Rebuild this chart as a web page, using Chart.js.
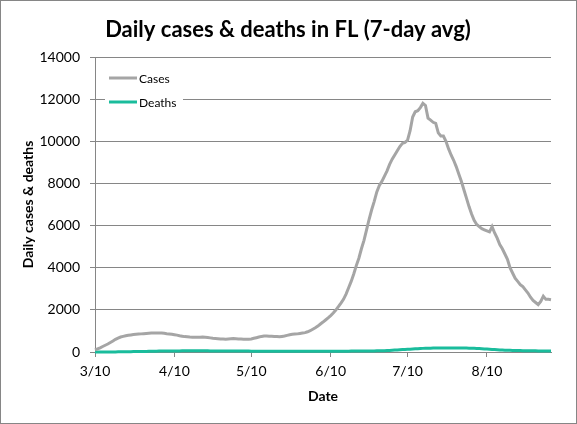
<!DOCTYPE html>
<html>
<head>
<meta charset="utf-8">
<script src="https://cdn.jsdelivr.net/npm/chart.js@4"></script>
<style>
html, body { margin: 0; padding: 0; background: #fff; }
canvas { display: block; }
</style>
</head>
<body>
<canvas id="myChart" width="577" height="424"></canvas>
<script>
const TITLE = 'Daily cases & deaths in FL (7-day avg)';
const GRID = '#868686';
const FONT = 'Lato, "Open Sans", sans-serif';

// ----------- Data ----------- //
// one category per day, 3/10 .. 9/4
const dates = [];
for (let d = new Date(2020, 2, 10); d <= new Date(2020, 8, 4); d.setDate(d.getDate() + 1)) {
    dates.push((d.getMonth() + 1) + '/' + d.getDate());
}
const tickDates = ['3/10', '4/10', '5/10', '6/10', '7/10', '8/10'];
const yTicks = [0, 2000, 4000, 6000, 8000, 10000, 12000, 14000];

const cases = [
    100, 150, 200, 260, 320, 380, 450, 520, 600, 660,
    710, 740, 770, 790, 810, 830, 840, 850, 860, 870,
    880, 890, 900, 900, 900, 905, 900, 890, 870, 855,
    840, 820, 800, 770, 750, 730, 720, 710, 705, 700,
    700, 705, 710, 700, 690, 670, 650, 640, 630, 620,
    615, 610, 620, 630, 640, 630, 620, 615, 610, 600,
    610, 620, 650, 680, 710, 740, 760, 760, 750, 750,
    740, 730, 720, 740, 760, 790, 820, 840, 850, 860,
    880, 900, 920, 960, 1010, 1080, 1150, 1230, 1330, 1420,
    1520, 1620, 1730, 1850, 1990, 2150, 2320, 2500, 2750, 3050,
    3350, 3700, 4100, 4450, 4900, 5300, 5800, 6300, 6750, 7150,
    7600, 7900, 8100, 8350, 8600, 8900, 9150, 9350, 9550, 9750,
    9900, 9950, 10050, 10500, 11150, 11400, 11450, 11600, 11800, 11700,
    11100, 11000, 10900, 10850, 10400, 10250, 10250, 10000, 9650, 9350,
    9100, 8800, 8450, 8100, 7700, 7300, 6900, 6550, 6250, 6050,
    5950, 5850, 5800, 5750, 5700, 5950, 5650, 5400, 5100, 4900,
    4650, 4400, 4000, 3750, 3500, 3350, 3200, 3100, 2950, 2800,
    2600, 2450, 2350, 2250, 2400, 2650, 2500, 2500, 2480
];

const deaths = [
    0, 0, 0, 1, 1, 2, 3, 4, 5, 6,
    8, 10, 12, 14, 16, 18, 20, 22, 24, 26,
    28, 30, 32, 35, 40, 42, 44, 45, 46, 47,
    48, 50, 52, 53, 54, 55, 55, 56, 56, 56,
    55, 55, 55, 54, 54, 53, 52, 52, 51, 50,
    50, 49, 48, 47, 46, 45, 44, 44, 43, 42,
    42, 41, 41, 40, 40, 40, 39, 39, 38, 38,
    38, 37, 37, 37, 36, 36, 36, 36, 35, 35,
    35, 35, 35, 35, 36, 36, 37, 37, 38, 38,
    38, 38, 39, 39, 39, 40, 40, 40, 41, 41,
    42, 42, 43, 44, 45, 46, 47, 48, 50, 52,
    54, 56, 58, 62, 66, 72, 80, 90, 100, 110,
    118, 124, 130, 136, 142, 150, 158, 166, 172, 176,
    180, 182, 184, 186, 186, 188, 188, 188, 188, 188,
    188, 186, 186, 185, 184, 184, 182, 180, 176, 170,
    164, 156, 148, 140, 132, 124, 116, 108, 100, 94,
    88, 82, 78, 74, 70, 68, 66, 64, 62, 60,
    58, 56, 54, 52, 50, 50, 48, 48, 48
];

// ----------- Plugin: frame, title, legend ----------- //
const decor = {
    id: 'decor',
    beforeDraw(chart) {
        const c = chart.ctx;
        c.save();
        c.fillStyle = '#fff';
        c.fillRect(0, 0, chart.width, chart.height);
        c.restore();
    },
    afterDraw(chart) {
        const c = chart.ctx;
        c.save();
        c.strokeStyle = GRID;
        c.lineWidth = 1;
        c.strokeRect(0.5, 0.5, chart.width - 1, chart.height - 1);

        c.fillStyle = '#000';
        c.font = 'bold 22px ' + FONT;
        c.textAlign = 'center';
        c.textBaseline = 'middle';
        c.fillText(TITLE, 288, 30);

        // legend box sits on top of the 12000 gridline
        c.fillStyle = '#fff';
        c.fillRect(105, 66, 78, 46);
        c.font = '12px ' + FONT;
        c.textAlign = 'left';
        chart.data.datasets.forEach((ds, i) => {
            const y = 78 + i * 24;
            c.strokeStyle = ds.borderColor;
            c.lineWidth = 3;
            c.beginPath();
            c.moveTo(109, y);
            c.lineTo(137, y);
            c.stroke();
            c.fillStyle = '#000';
            c.fillText(ds.label, 139, y + 1);
        });
        c.restore();
    }
};

// ----------- Chart ----------- //
const ctx = document.getElementById('myChart');
const chart = new Chart(ctx, {
    type: 'line',
    data: {
        labels: dates,
        datasets: [{
            label: 'Cases',
            data: cases,
            borderColor: '#a5a5a5',
            borderWidth: 3,
            pointRadius: 0,
            clip: false,
        }, {
            label: 'Deaths',
            data: deaths,
            borderColor: '#1abc9c',
            borderWidth: 3,
            pointRadius: 0,
            clip: false,
        }]
    },
    options: {
        responsive: false,
        animation: false,
        devicePixelRatio: 1,
        layout: { padding: { top: 57, right: 26, bottom: 0, left: 0 } },
        plugins: {
            legend: { display: false },
            title: { display: false },
            tooltip: { enabled: false }
        },
        scales: {
            x: {
                type: 'category',
                offset: false,
                afterFit: s => { s.height = 72; },
                afterBuildTicks: s => {
                    s.ticks = s.ticks.filter(t => tickDates.includes(dates[t.value]));
                },
                grid: { drawOnChartArea: false, drawTicks: true, tickLength: 5, color: GRID },
                border: { display: true, color: GRID },
                ticks: {
                    autoSkip: false,
                    maxRotation: 0,
                    padding: 6,
                    color: '#000',
                    font: { family: FONT, size: 14 }
                },
                title: {
                    display: true,
                    text: 'Date',
                    color: '#000',
                    padding: { top: 0, bottom: 19 },
                    font: { family: FONT, size: 14, weight: 'bold' }
                }
            },
            y: {
                min: 0,
                max: 14000,
                afterFit: s => { s.width = 95; },
                afterBuildTicks: s => { s.ticks = yTicks.map(v => ({ value: v })); },
                grid: { color: GRID, tickLength: 5 },
                border: { display: true, color: GRID },
                ticks: {
                    padding: 10,
                    color: '#000',
                    font: { family: FONT, size: 14 },
                    callback: v => String(v)
                },
                title: {
                    display: true,
                    text: 'Daily cases & deaths',
                    color: '#000',
                    padding: { top: 20, bottom: 0 },
                    font: { family: FONT, size: 14, weight: 'bold' }
                }
            }
        }
    },
    plugins: [decor]
});
</script>
</body>
</html>
